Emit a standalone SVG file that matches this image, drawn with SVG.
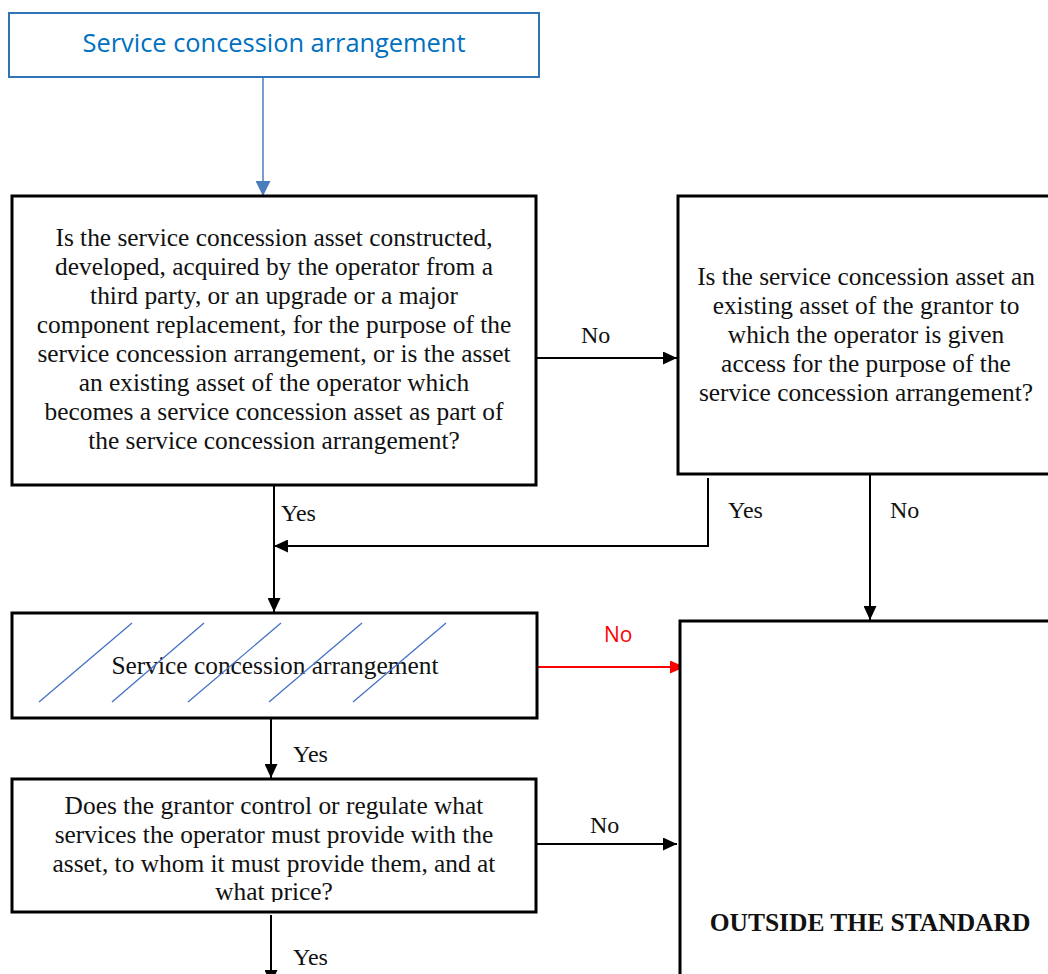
<svg xmlns="http://www.w3.org/2000/svg" width="1048" height="974" viewBox="0 0 1048 974">
<style>
.box{fill:#fff;stroke:#000;stroke-width:3}
.t{font-family:"Liberation Serif","Times New Roman",serif;font-size:25.4px;fill:#111;text-anchor:middle}
.lbl{font-family:"Liberation Serif","Times New Roman",serif;font-size:24px;fill:#111}
.c{fill:none;stroke:#000;stroke-width:2}
.hatch{stroke:#4472c4;stroke-width:1.3}
</style>
<defs>
<marker id="ab" markerUnits="userSpaceOnUse" markerWidth="14" markerHeight="13" refX="14" refY="6.5" orient="auto"><path d="M0,0 L14,6.5 L0,13 z" fill="#000"/></marker>
<marker id="abl" markerUnits="userSpaceOnUse" markerWidth="15" markerHeight="15" refX="15" refY="7.5" orient="auto"><path d="M0,0 L15,7.5 L0,15 z" fill="#4a7ebb"/></marker>
<marker id="ar" markerUnits="userSpaceOnUse" markerWidth="15" markerHeight="13" refX="15" refY="6.5" orient="auto"><path d="M0,0 L15,6.5 L0,13 z" fill="#ff0000"/></marker>
<clipPath id="clip5"><rect x="0" y="770" width="540" height="132"/></clipPath>
</defs>
<rect width="1048" height="974" fill="#fff"/>

<g id="connectors">
<path d="M263,78 V196" stroke="#4a7ebb" stroke-width="1.5" fill="none" marker-end="url(#abl)"/>
<path class="c" d="M537,358 H677" marker-end="url(#ab)"/>
<path class="c" d="M274,486 V612" marker-end="url(#ab)"/>
<path class="c" d="M708,478 V546 H274" marker-end="url(#ab)"/>
<path class="c" d="M870,475 V620" stroke-width="1.5" marker-end="url(#ab)"/>
<path d="M538,667 H685" stroke="#ff0000" stroke-width="2" fill="none" marker-end="url(#ar)"/>
<path class="c" d="M271,719 V778" marker-end="url(#ab)"/>
<path class="c" d="M536,844 H677" marker-end="url(#ab)"/>
<path class="c" d="M271,915 V984" marker-end="url(#ab)"/>
<text class="lbl" x="581" y="343">No</text>
<text class="lbl" x="281" y="521">Yes</text>
<text class="lbl" x="728" y="518">Yes</text>
<text class="lbl" x="890" y="518">No</text>
<text x="604" y="642" font-family="'Open Sans','Liberation Sans',sans-serif" font-size="21" fill="#ff0000">No</text>
<text class="lbl" x="293" y="762">Yes</text>
<text class="lbl" x="590" y="833">No</text>
<text class="lbl" x="293" y="965">Yes</text>
</g>

<g id="start">
<rect x="9" y="13" width="530" height="64" fill="#fff" stroke="#2e75b6" stroke-width="2"/>
<text x="274" y="52" font-family="'Open Sans','Liberation Sans',sans-serif" font-size="25" fill="#0070c0" text-anchor="middle" textLength="383" lengthAdjust="spacingAndGlyphs">Service concession arrangement</text>
</g>

<g id="q1">
<rect class="box" x="12" y="196" width="524" height="289"/>
<text class="t" x="274" y="246">Is the service concession asset constructed,</text>
<text class="t" x="274" y="275">developed, acquired by the operator from a</text>
<text class="t" x="274" y="304">third party, or an upgrade or a major</text>
<text class="t" x="274" y="333">component replacement, for the purpose of the</text>
<text class="t" x="274" y="362">service concession arrangement, or is the asset</text>
<text class="t" x="274" y="391">an existing asset of the operator which</text>
<text class="t" x="274" y="420">becomes a service concession asset as part of</text>
<text class="t" x="274" y="449">the service concession arrangement?</text>
</g>

<g id="q2">
<rect class="box" x="678" y="196" width="420" height="278"/>
<text class="t" x="866" y="285">Is the service concession asset an</text>
<text class="t" x="866" y="314">existing asset of the grantor to</text>
<text class="t" x="866" y="343">which the operator is given</text>
<text class="t" x="866" y="372">access for the purpose of the</text>
<text class="t" x="866" y="401">service concession arrangement?</text>
</g>

<g id="sca">
<rect class="box" x="12" y="613" width="525" height="105"/>
<text class="t" x="275" y="674">Service concession arrangement</text>
<line class="hatch" x1="132" y1="623" x2="39" y2="702"/>
<line class="hatch" x1="204" y1="623" x2="112" y2="702"/>
<line class="hatch" x1="281" y1="623" x2="188" y2="702"/>
<line class="hatch" x1="362" y1="623" x2="269" y2="702"/>
<line class="hatch" x1="446" y1="623" x2="353" y2="702"/>
</g>

<g id="q3">
<rect class="box" x="12" y="779" width="524" height="133"/>
<text class="t" x="274" y="814">Does the grantor control or regulate what</text>
<text class="t" x="274" y="843">services the operator must provide with the</text>
<text class="t" x="274" y="872">asset, to whom it must provide them, and at</text>
<text class="t" x="274" y="900" clip-path="url(#clip5)">what price?</text>
</g>

<g id="outside">
<rect class="box" x="680" y="621" width="420" height="400"/>
<text x="870" y="931" font-family="'Liberation Serif','Times New Roman',serif" font-size="25.5" font-weight="bold" fill="#111" text-anchor="middle">OUTSIDE THE STANDARD</text>
</g>
</svg>
